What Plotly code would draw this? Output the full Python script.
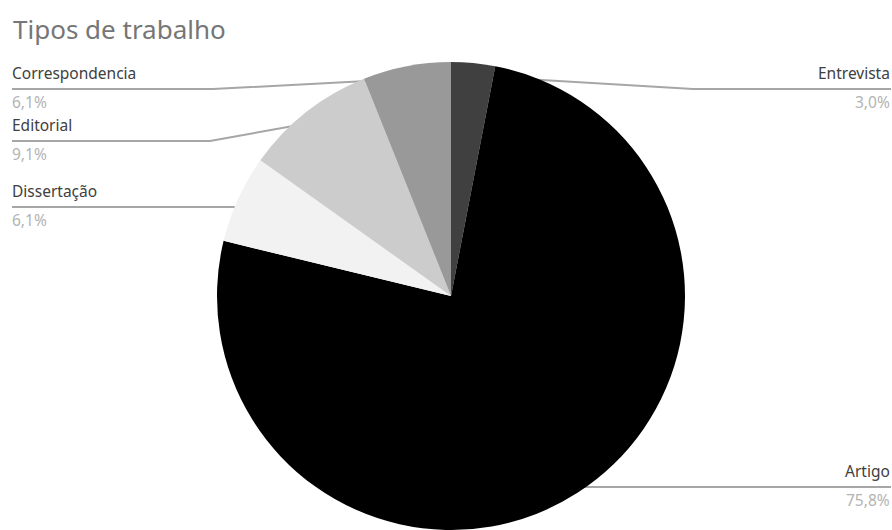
import math
import plotly.graph_objects as go

title_text = "Tipos de trabalho"
categories = ["Entrevista", "Artigo", "Dissertação", "Editorial", "Correspondencia"]
counts = [1, 25, 2, 3, 2]
colors = ["#404040", "#000000", "#f2f2f2", "#cccccc", "#999999"]

# ---- layout constants (screen pixels) ----
W, H = 892, 530
CX, CY, R = 451, 296, 234
DOT_FRAC = 0.945
LINE_COLOR = "#a6a6a6"
FONT = "Noto Sans"

# label placement per category: side, line y, elbow x (None = straight)
label_side = ["right", "right", "left", "left", "left"]
label_line_y = [89, 487, 207, 141, 89]
label_elbow_x = [693, None, None, 210, 213]
LEFT_X, RIGHT_X = 12, 891

total = sum(counts)
pcts = [100 * c / total for c in counts]
pct_text = [f"{p:.1f}".replace(".", ",") + "%" for p in pcts]

fig = go.Figure()

fig.add_trace(go.Pie(
    labels=categories,
    values=counts,
    marker=dict(colors=colors, line=dict(width=0)),
    sort=False,
    direction="clockwise",
    rotation=0,
    textinfo="none",
    hoverinfo="label+percent",
    showlegend=False,
    domain=dict(x=[(CX - R) / W, (CX + R) / W],
                y=[(H - CY - R) / H, (H - CY + R) / H]),
))

cum = 0.0
annotations = []
for i, c in enumerate(counts):
    ang = (cum + c / 2) / total * 2 * math.pi
    cum += c
    r = R * DOT_FRAC
    dx = CX + r * math.sin(ang)
    dy = CY - r * math.cos(ang)
    ly = label_line_y[i]
    end_x = RIGHT_X if label_side[i] == "right" else LEFT_X
    if label_elbow_x[i] is None:
        xs = [dx, end_x]
        ys = [ly, ly]
        dy = ly
    else:
        xs = [dx, label_elbow_x[i], end_x]
        ys = [dy, ly, ly]
    fig.add_trace(go.Scatter(x=xs, y=ys, mode="lines",
                             line=dict(color=LINE_COLOR, width=2),
                             hoverinfo="skip", showlegend=False))
    fig.add_trace(go.Scatter(x=[dx], y=[dy], mode="markers",
                             marker=dict(color=LINE_COLOR, size=6),
                             hoverinfo="skip", showlegend=False))
    anchor = "right" if label_side[i] == "right" else "left"
    tx = end_x + (1 if anchor == "right" else -2)
    annotations.append(dict(x=tx, y=ly - 16.5, xref="x", yref="y",
                            text=categories[i], showarrow=False,
                            xanchor=anchor, yanchor="middle",
                            font=dict(family=FONT, size=15.5, color="#404040")))
    annotations.append(dict(x=tx, y=ly + 13, xref="x", yref="y",
                            text=pct_text[i], showarrow=False,
                            xanchor=anchor, yanchor="middle",
                            font=dict(family=FONT, size=15.5, color="#b3b3b3")))

annotations.append(dict(x=11, y=29, xref="x", yref="y", text=title_text,
                        showarrow=False, xanchor="left", yanchor="middle",
                        font=dict(family=FONT, size=26, color="#767676")))

fig.update_layout(
    width=W, height=H,
    margin=dict(l=0, r=0, t=0, b=0),
    paper_bgcolor="white", plot_bgcolor="rgba(0,0,0,0)",
    xaxis=dict(range=[0, W], visible=False, fixedrange=True),
    yaxis=dict(range=[H, 0], visible=False, fixedrange=True),
    annotations=annotations,
)

fig.write_html(
    "out.html",
    config={"displayModeBar": False},
    post_script="document.body.style.margin='0';document.body.style.overflow='hidden';",
)
